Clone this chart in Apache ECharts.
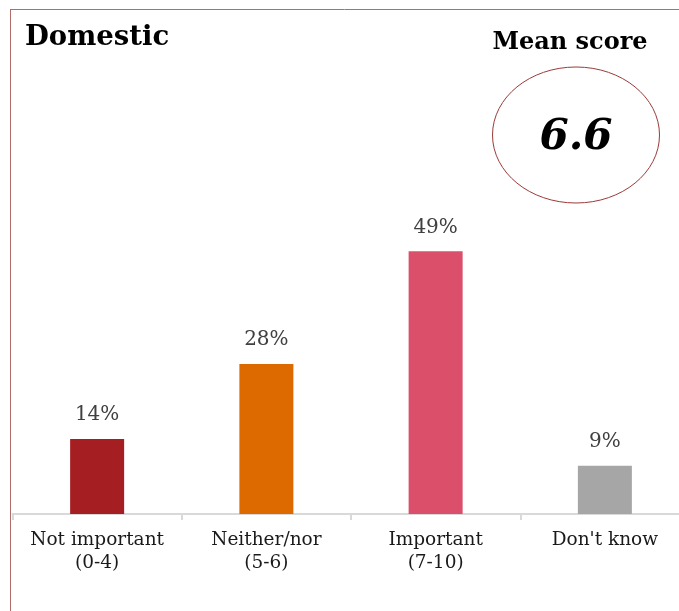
<!DOCTYPE html>
<html>
<head>
<meta charset="utf-8">
<script src="https://cdn.jsdelivr.net/npm/echarts@6/dist/echarts.min.js"></script>
<style>
  html, body { margin: 0; padding: 0; background: #fff; }
  #chart { width: 679px; height: 611px; }
</style>
</head>
<body>
<div id="chart"></div>
<script>
// Share of respondents rating importance (domestic)
const categories = ['Not important\n(0-4)', 'Neither/nor\n(5-6)', 'Important\n(7-10)', "Don't know"];
const shares = [14, 28, 49, 9];
const barColors = ['#a51e22', '#dd6a00', '#db4f6a', '#a6a6a6'];
const panelTitle = 'Domestic';
const meanLabel = 'Mean score';
const meanScore = 6.6;

const serif = '"DejaVu Serif", "Liberation Serif", serif';
const chart = echarts.init(document.getElementById('chart'), null, { renderer: 'canvas' });

chart.setOption({
  animation: false,
  backgroundColor: '#ffffff',
  grid: {
    left: 12.5, top: 192.4, width: 677, height: 321.6,
    containLabel: false, outerBoundsMode: 'none'
  },
  xAxis: {
    type: 'category',
    data: categories,
    axisLine: { lineStyle: { color: '#d9d9d9', width: 2 } },
    axisTick: { show: true, length: 6, lineStyle: { color: '#d9d9d9', width: 2 } },
    axisLabel: {
      fontFamily: serif, fontSize: 18.5, color: '#1a1a1a',
      lineHeight: 23, margin: 15, interval: 0
    }
  },
  yAxis: {
    type: 'value', min: 0, max: 60, show: false,
    splitLine: { show: false }
  },
  series: [{
    type: 'bar',
    barWidth: 54,
    data: shares.map((v, i) => ({ value: v, itemStyle: { color: barColors[i] } })),
    label: {
      show: true, position: 'top', distance: 14,
      formatter: p => p.value + '%',
      fontFamily: serif, fontSize: 20, color: '#404040'
    }
  }],
  graphic: [
    { type: 'line', shape: { x1: 10, y1: 9.5, x2: 679, y2: 9.5 },
      style: { stroke: '#b36b6b', lineWidth: 1 } },
    { type: 'line', shape: { x1: 10.5, y1: 9, x2: 10.5, y2: 611 },
      style: { stroke: '#b36b6b', lineWidth: 1 } },
    { type: 'text', left: 25, top: 24,
      style: { text: panelTitle, font: 'bold 27.5px ' + serif, fill: '#000' } },
    { type: 'text', x: 570, y: 43,
      style: { text: meanLabel, font: 'bold 24px ' + serif, fill: '#000',
               align: 'center', verticalAlign: 'middle' } },
    { type: 'ellipse', shape: { cx: 576, cy: 135, rx: 83.5, ry: 68 },
      style: { fill: 'none', stroke: '#9c3a3a', lineWidth: 1 } },
    { type: 'text', x: 576, y: 138,
      style: { text: meanScore.toFixed(1), font: 'italic bold 42px ' + serif, fill: '#000',
               align: 'center', verticalAlign: 'middle' } }
  ]
});
</script>
</body>
</html>
